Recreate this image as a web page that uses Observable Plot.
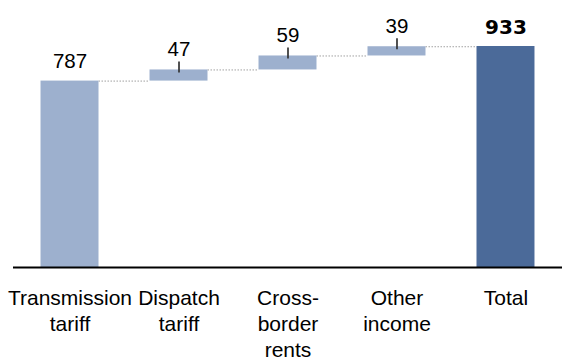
<!DOCTYPE html>
<html><head><meta charset="utf-8">
<script src="https://cdn.jsdelivr.net/npm/d3@7"></script>
<script src="https://cdn.jsdelivr.net/npm/@observablehq/plot@0.6"></script>
<style>
html,body{margin:0;padding:0;background:#fff;}
#chart svg{display:block;}
</style></head><body><div id="chart"></div>
<script>
// ---- data ----
const categories = ["Transmission tariff", "Dispatch tariff", "Cross-border rents", "Other income", "Total"];
const tickLabels = ["Transmission\ntariff", "Dispatch\ntariff", "Cross-\nborder\nrents", "Other\nincome", "Total"];
const values = [787, 47, 59, 39, 933];
const isTotal = [false, false, false, false, true];

// ---- derived waterfall table ----
const rows = [];
let run = 0;
categories.forEach((c, i) => {
  let start, end;
  if (isTotal[i]) { start = 0; end = values[i]; }
  else { start = run; end = run + values[i]; run = end; }
  rows.push({cat: c, value: values[i], start, end, total: isTotal[i], index: i});
});
const connectors = rows.slice(0, -1).map((r, i) => ({from: r.cat, to: rows[i + 1].cat, level: r.end}));
const deltas = rows.filter((r, i) => i > 0 && !r.total);
const normals = rows.filter(r => !r.total);
const totals = rows.filter(r => r.total);

const W = 562, H = 361;
const mL = 13, mR = 0, mT = 46, mB = 94;
const xOpts = {domain: categories, range: [mL, W - mR], paddingInner: 0.468, paddingOuter: 0.2525, round: false};
const bw = Plot.scale({x: {type: "band", ...xOpts}}).bandwidth;

const chart = Plot.plot({
  width: W, height: H,
  marginLeft: mL, marginRight: mR, marginTop: mT, marginBottom: mB,
  style: {fontFamily: "'Liberation Sans', Arial, sans-serif", background: "white", color: "black"},
  x: {type: "band", ...xOpts},
  y: {domain: [0, 933], axis: null},
  marks: [
    Plot.ruleY(connectors, {x1: "from", x2: "to", y: "level", insetLeft: bw, insetRight: bw,
      stroke: "#a0a0a0", strokeWidth: 1, strokeDasharray: "1.5,1.5"}),
    Plot.barY(rows, {x: "cat", y1: "start", y2: "end", fill: d => d.total ? "#4B6A99" : "#9DB0CE"}),
    Plot.ruleX(deltas, {x: "cat", y1: "end", y2: "end", insetTop: -8, insetBottom: -3, stroke: "#333", strokeWidth: 1.7}),
    Plot.text(normals, {x: "cat", y: "end", text: d => String(d.value), dy: -13.5, lineAnchor: "bottom", fontSize: 20.5, fill: "black"}),
    Plot.text(totals, {x: "cat", y: "end", text: d => String(d.value), dy: -13, lineAnchor: "bottom", fontSize: 20,
      fontWeight: "bold", fontFamily: "'DejaVu Sans', sans-serif", fill: "black"}),
    Plot.ruleY([0], {stroke: "black", strokeWidth: 2}),
    Plot.axisX({tickSize: 0, tickPadding: 19, label: null, fontSize: 21, lineHeight: 1.24, fill: "black",
      tickFormat: d => tickLabels[categories.indexOf(d)]})
  ]
});
document.getElementById("chart").append(chart);
</script></body></html>
